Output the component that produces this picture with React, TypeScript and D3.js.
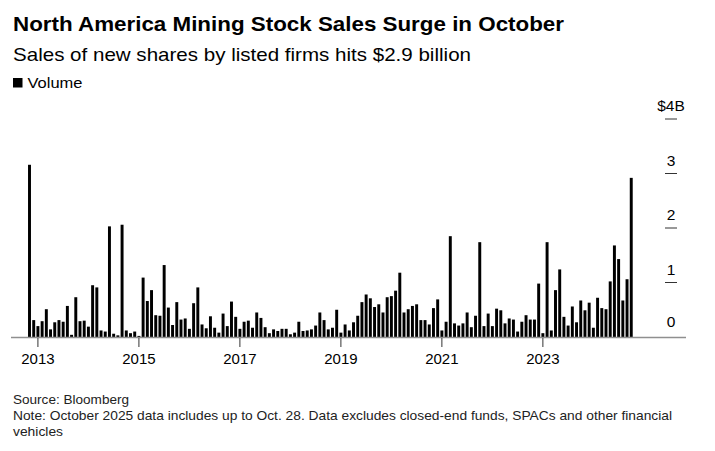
import React from "react";
import * as d3 from "d3";

const title = "North America Mining Stock Sales Surge in October";
const subtitle = "Sales of new shares by listed firms hits $2.9 billion";
const legendLabel = "Volume";
const sourceText = "Source: Bloomberg";
const noteLine1 = "Note: October 2025 data includes up to Oct. 28. Data excludes closed-end funds, SPACs and other financial";
const noteLine2 = "vehicles";

// Monthly share-sale volume, $ billions
const volume: number[] = [
  3.16, 0.31, 0.20, 0.29, 0.51, 0.14, 0.27, 0.31, 0.28, 0.57,
  0.04, 0.73, 0.29, 0.30, 0.19, 0.95, 0.91, 0.12, 0.10, 2.03,
  0.06, 0.03, 2.06, 0.12, 0.07, 0.10, 0.02, 1.09, 0.66, 0.86,
  0.40, 0.39, 1.32, 0.54, 0.22, 0.64, 0.32, 0.34, 0.15, 0.62,
  0.91, 0.23, 0.16, 0.38, 0.17, 0.08, 0.43, 0.20, 0.65, 0.37,
  0.15, 0.28, 0.30, 0.17, 0.45, 0.35, 0.18, 0.07, 0.14, 0.11,
  0.15, 0.15, 0.05, 0.08, 0.28, 0.11, 0.12, 0.14, 0.21, 0.45,
  0.31, 0.14, 0.17, 0.50, 0.08, 0.23, 0.12, 0.27, 0.39, 0.64,
  0.78, 0.71, 0.55, 0.60, 0.45, 0.73, 0.75, 0.85, 1.18, 0.45,
  0.51, 0.57, 0.60, 0.31, 0.31, 0.23, 0.53, 0.69, 0.12, 0.28,
  1.85, 0.25, 0.21, 0.25, 0.45, 0.18, 0.39, 1.74, 0.20, 0.43,
  0.20, 0.52, 0.49, 0.25, 0.34, 0.32, 0.10, 0.28, 0.40, 0.32,
  0.32, 0.98, 0.07, 1.74, 0.12, 0.86, 1.24, 0.37, 0.21, 0.56,
  0.27, 0.67, 0.49, 0.63, 0.17, 0.72, 0.53, 0.51, 1.02, 1.68,
  1.43, 0.67, 1.06, 2.92,
];
const months: number[] = volume.map((_, i) => i);

const yearLabels = ["2013", "2015", "2017", "2019", "2021", "2023"];
const yearMonthIndex = [2, 26, 50, 74, 98, 122];

const yTicks = [0, 1, 2, 3, 4];
const yTickLabels = ["0", "1", "2", "3", "4"];

const W = 715;
const H = 451;
const FONT = "'Liberation Sans', Arial, sans-serif";

export default function App() {
  const step = 4.208;
  const x0 = 29.5 - step / 2;
  const x = d3
    .scaleBand<number>()
    .domain(months)
    .range([x0, x0 + step * months.length])
    .paddingInner(0.3)
    .paddingOuter(0.15);
  const y = d3.scaleLinear().domain([0, 4]).range([337, 119]);
  const cx = (i: number) => (x(i) ?? 0) + x.bandwidth() / 2;

  const tickX1 = 665;
  const tickX2 = 677;
  const labelX = (tickX1 + tickX2) / 2;

  return (
    <svg
      width={W}
      height={H}
      viewBox={`0 0 ${W} ${H}`}
      style={{ position: "absolute", left: 0, top: 0, background: "#fff" }}
      fontFamily={FONT}
    >
      <rect x={0} y={0} width={W} height={H} fill="#fff" />
      <text x={13} y={31} fontSize={21} fontWeight="bold" fill="#000" textLength={551} lengthAdjust="spacingAndGlyphs">
        {title}
      </text>
      <text x={13} y={61} fontSize={18.5} fill="#000" textLength={458} lengthAdjust="spacingAndGlyphs">
        {subtitle}
      </text>
      <rect x={13} y={78} width={9.5} height={9.5} fill="#000" />
      <text x={27.5} y={88} fontSize={14.5} fill="#000" textLength={55} lengthAdjust="spacingAndGlyphs">
        {legendLabel}
      </text>

      {/* bars */}
      <g>
        {volume.map((v, i) => (
          <rect
            key={i}
            x={x(months[i])}
            y={y(v)}
            width={x.bandwidth()}
            height={y(0) - y(v)}
            fill="#000"
          />
        ))}
      </g>

      {/* baseline */}
      <line x1={11} x2={686} y1={y(0) + 0.5} y2={y(0) + 0.5} stroke="#8f8f8f" strokeWidth={1.6} />

      {/* year ticks */}
      {yearMonthIndex.map((m, k) => (
        <g key={k}>
          <line x1={cx(m)} x2={cx(m)} y1={y(0) + 1} y2={y(0) + 10} stroke="#333" strokeWidth={1} />
          <text x={cx(m)} y={364} fontSize={15} textAnchor="middle" fill="#000">
            {yearLabels[k]}
          </text>
        </g>
      ))}

      {/* right axis */}
      {yTicks.map((t, k) => (
        <g key={k}>
          {t > 0 && (
            <line x1={tickX1} x2={tickX2} y1={y(t)} y2={y(t)} stroke="#333" strokeWidth={1} />
          )}
          <text x={labelX} y={y(t) - (t === 0 ? 10 : 8)} fontSize={15.5} textAnchor="middle" fill="#000">
            {t === 4 ? (
              <>
                <tspan>$</tspan>
                <tspan>{yTickLabels[k]}</tspan>
                <tspan>B</tspan>
              </>
            ) : (
              yTickLabels[k]
            )}
          </text>
        </g>
      ))}

      {/* footer */}
      <text x={13} y={404} fontSize={13.5} fill="#222" textLength={116} lengthAdjust="spacingAndGlyphs">
        {sourceText}
      </text>
      <text x={13} y={420} fontSize={13.5} fill="#222" textLength={659} lengthAdjust="spacingAndGlyphs">
        {noteLine1}
      </text>
      <text x={13} y={436} fontSize={13.5} fill="#222" textLength={50} lengthAdjust="spacingAndGlyphs">
        {noteLine2}
      </text>
    </svg>
  );
}
